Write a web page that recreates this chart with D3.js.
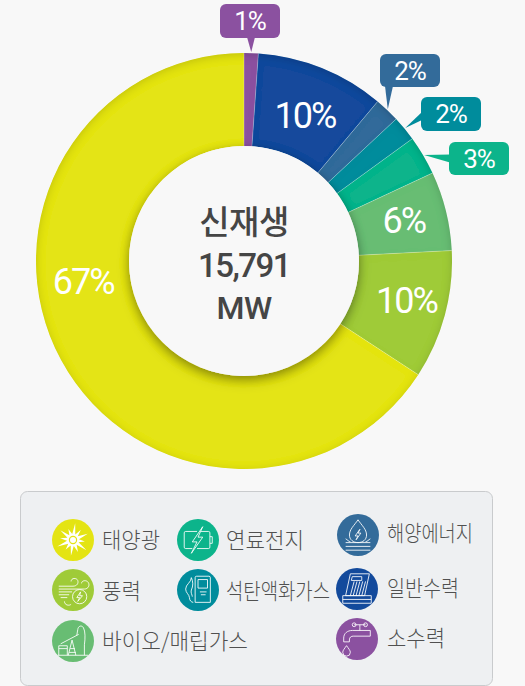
<!DOCTYPE html>
<html>
<head>
<meta charset="utf-8">
<script src="https://cdn.jsdelivr.net/npm/d3@7"></script>
<style>
html, body { margin: 0; padding: 0; background: #f8f8f8; overflow: hidden; }
text { font-family: Roboto, "Noto Sans CJK KR", sans-serif; }
.kr { font-family: "Noto Sans CJK KR", sans-serif; }
</style>
</head>
<body>
<svg id="chart" width="525" height="686"></svg>
<script>
// clockwise from 12 o'clock
var categories = ['소수력', '일반수력', '해양에너지', '석탄액화가스', '연료전지', '바이오/매립가스', '풍력', '태양광'];
var shares = [1.1, 10, 1.95, 1.95, 3.05, 6.15, 10, 65.8];
var percentLabels = ['1%', '10%', '2%', '2%', '3%', '6%', '10%', '67%'];
var colors = ['#8b51a0', '#134a9c', '#336b9a', '#008c9c', '#0cb48b', '#68bd73', '#9fcb38', '#e4e413'];
var centerLines = ['신재생', '15,791', 'MW'];

var cx = 244, cy = 261, outer = 208, inner = 115;

var svg = d3.select('#chart');
var defs = svg.append('defs');

// dark inner edge on the ring, a bit stronger along the top
var inset = defs.append('filter').attr('id', 'inset')
    .attr('x', '-5%').attr('y', '-5%').attr('width', '110%').attr('height', '110%');
inset.append('feFlood').attr('flood-color', '#000').attr('flood-opacity', 0.32).attr('result', 'fl');
inset.append('feComposite').attr('in', 'fl').attr('in2', 'SourceAlpha').attr('operator', 'out').attr('result', 'outside');
inset.append('feOffset').attr('in', 'outside').attr('dy', 1.5).attr('result', 'moved');
inset.append('feGaussianBlur').attr('in', 'moved').attr('stdDeviation', 4).attr('result', 'bl');
inset.append('feComposite').attr('in', 'bl').attr('in2', 'SourceAlpha').attr('operator', 'in').attr('result', 'edge');
var im = inset.append('feMerge');
im.append('feMergeNode').attr('in', 'SourceGraphic');
im.append('feMergeNode').attr('in', 'edge');

var holeShadow = defs.append('filter').attr('id', 'holeShadow')
    .attr('x', '-20%').attr('y', '-20%').attr('width', '140%').attr('height', '140%');
holeShadow.append('feDropShadow').attr('dx', 0).attr('dy', 5).attr('stdDeviation', 6)
    .attr('flood-color', '#000').attr('flood-opacity', 0.3);

var pie = d3.pie().sort(null).value(function(d) { return d; });
var arcs = pie(shares);
var arc = d3.arc().innerRadius(inner).outerRadius(outer);

function polar(a, r) {
    return [r * Math.sin(a), -r * Math.cos(a)];
}

var g = svg.append('g').attr('transform', 'translate(' + cx + ',' + cy + ')');

var ring = g.append('g').attr('filter', 'url(#inset)');
ring.selectAll('path').data(arcs).enter().append('path')
    .attr('d', arc)
    .attr('fill', function(d, i) { return colors[i]; });

// thin pale lines between the slices
g.selectAll('line.sep').data(arcs).enter().append('line')
    .attr('class', 'sep')
    .attr('x1', function(d) { return polar(d.endAngle, inner)[0]; })
    .attr('y1', function(d) { return polar(d.endAngle, inner)[1]; })
    .attr('x2', function(d) { return polar(d.endAngle, outer)[0]; })
    .attr('y2', function(d) { return polar(d.endAngle, outer)[1]; })
    .attr('stroke', '#fff').attr('stroke-opacity', 0.4).attr('stroke-width', 0.7);

g.append('circle').attr('r', inner).attr('fill', '#f8f8f8').attr('filter', 'url(#holeShadow)');

// center text
var centerY = [-38, 5, 47];
var centerSize = [33, 33, 32];
var centerSpacing = [-0.5, -1.5, -0.5];
g.selectAll('text.center').data(centerLines).enter().append('text')
    .attr('class', 'center')
    .attr('text-anchor', 'middle')
    .attr('y', function(d, i) { return centerY[i] + 11; })
    .attr('font-size', function(d, i) { return centerSize[i]; })
    .attr('font-weight', 500)
    .attr('letter-spacing', function(d, i) { return centerSpacing[i]; })
    .attr('fill', '#454545')
    .text(function(d) { return d; });

// labels that sit inside the ring, [slice, radius, angle in degrees]
var insideLabels = [[1, 158, 22.7], [5, 165, 75.5], [6, 167, 103.5], [7, 162, 263]];
g.selectAll('text.inside').data(insideLabels).enter().append('text')
    .attr('class', 'inside')
    .attr('text-anchor', 'middle')
    .attr('x', function(d) { return polar(d[2] * Math.PI / 180, d[1])[0]; })
    .attr('y', function(d) { return polar(d[2] * Math.PI / 180, d[1])[1] + 13; })
    .attr('font-size', 36)
    .attr('letter-spacing', -2)
    .attr('fill', '#fff')
    .text(function(d) { return percentLabels[d[0]]; });

// callouts for the thin slices
var callouts = [
    { i: 0, x: 220, y: 4, w: 60, h: 34, side: 'bottom' },
    { i: 2, x: 380, y: 54, w: 60, h: 33, side: 'bottom' },
    { i: 3, x: 421, y: 97, w: 60, h: 34, side: 'left' },
    { i: 4, x: 449, y: 142, w: 60, h: 33, side: 'left' }
];
var calloutLayer = svg.append('g');
callouts.forEach(function(c) {
    var a = (arcs[c.i].startAngle + arcs[c.i].endAngle) / 2;
    var tip = polar(a, outer + 1);
    var tx = cx + tip[0], ty = cy + tip[1];
    var base;
    if (c.side === 'bottom') {
        var bx = c.i === 2 ? c.x + 9 : c.x + 31;
        base = [[bx - 4, c.y + c.h - 1], [bx + 4, c.y + c.h - 1]];
    } else {
        var by = c.y + c.h / 2 + (c.i === 3 ? 2 : 0);
        base = [[c.x + 1, by - 4], [c.x + 1, by + 4]];
    }
    calloutLayer.append('path')
        .attr('d', 'M' + base[0] + 'L' + base[1] + 'L' + [tx, ty] + 'Z')
        .attr('fill', colors[c.i]);
    calloutLayer.append('rect')
        .attr('x', c.x).attr('y', c.y).attr('width', c.w).attr('height', c.h).attr('rx', 6)
        .attr('fill', colors[c.i]);
    calloutLayer.append('text')
        .attr('x', c.x + c.w / 2).attr('y', c.y + c.h / 2 + 9)
        .attr('text-anchor', 'middle')
        .attr('font-size', 26).attr('letter-spacing', -1)
        .attr('fill', '#fff')
        .text(percentLabels[c.i]);
});

// legend
svg.append('rect')
    .attr('x', 20.5).attr('y', 491.5).attr('width', 472).attr('height', 194).attr('rx', 7)
    .attr('fill', '#eef0f2').attr('stroke', '#c9cbcd');

var legendItems = [
    { name: '태양광', cx: 73, cy: 540, tx: 102, ty: 548, len: 58, icon: 'sun' },
    { name: '연료전지', cx: 198, cy: 540, tx: 226, ty: 548, len: 78, icon: 'battery' },
    { name: '해양에너지', cx: 358, cy: 535, tx: 387, ty: 541, len: 86, icon: 'wave' },
    { name: '풍력', cx: 73, cy: 590, tx: 102, ty: 599, len: 39, icon: 'wind' },
    { name: '석탄액화가스', cx: 198, cy: 590, tx: 226, ty: 599, len: 104, icon: 'fuel' },
    { name: '일반수력', cx: 357, cy: 589, tx: 387, ty: 596, len: 72, icon: 'dam' },
    { name: '바이오/매립가스', cx: 73, cy: 641, tx: 102, ty: 649, len: 146, icon: 'jack' },
    { name: '소수력', cx: 357, cy: 639, tx: 387, ty: 646, len: 58, icon: 'tap' }
];

// icon artwork, drawn around the circle center
var icons = {
    battery: ['M-1,-9H-13a1.5,1.5 0 0 0 -1.5,1.5V7.5a1.5,1.5 0 0 0 1.5,1.5H-6M3,-9H11a1.5,1.5 0 0 1 1.5,1.5V7.5a1.5,1.5 0 0 1 -1.5,1.5H-1',
              'M12.5,-3.5H15V3.5H12.5', 'M5,-14L-6,2H-1L-7,14L5,-3H0Z'],
    wave: ['M0,-16C4,-10 9,-6 9,0C9,5 5,8 0,8C-5,8 -9,5 -9,0C-9,-6 -4,-10 0,-16Z', 'M2,-6L-3,1H0L-2,5L3,-2H0Z',
           'M-13,4C-11,5 -10,7 -8,7M13,4C11,5 10,7 8,7', 'M-13,8H13M-13,12H13M-13,16H13'],
    wind: ['M-15,-4H0C4,-4 6,-7 5,-10C4,-13 -2,-13 -2,-9', 'M-15,-1H12C16,-1 18,-5 16,-8C14,-11 9,-10 9,-7',
           'M-15,2H-1M-15,5H-4M-13,8H-6M-9,12C-9,16 -4,17 -2,15',
           'M14.5,7A7.5,7.5 0 1 1 -0.5,7A7.5,7.5 0 1 1 14.5,7Z', 'M8,2L4,8H7L5,12L10,6H7Z'],
    fuel: ['M-3,13V-13A1.5,1.5 0 0 1 -1.5,-14.5H11.5A1.5,1.5 0 0 1 13,-13V13Z', 'M0,-11H10V-2H0Z', 'M2,2H9M3,5H8',
           'M-7,-13C-7,-8 -13,-6 -13,-1C-13,3 -9,5 -9,8C-9,11 -7,13 -5,13M-7,-13C-5,-9 -5,-4 -7,0C-8,3 -6,5 -6,7'],
    dam: ['M-7,-16H13L8,7H-12Z', 'M-5,-13H5V-9H-6Z', 'M9,-8L5,7M6,-8L2,7M3,-8L-1,7M0,-8L-4,7M-3,-8L-7,7',
          'M-15,7H15V15H-15ZM-15,11H15'],
    jack: ['M-16,15H16', 'M-15,15V5H-6V15M-15,8H-6', 'M-13,3L6,-7', 'M-5,15L-1,-1L3,15M-3,8H2M-4,12H3',
           'M4,-6L5,-12C5.5,-16 9,-17 11,-14C13,-10 13,-3 12,4', 'M12,4V15'],
    tap: ['M-14,3V-1C-14,-6 -10,-9 -5,-9H14V-3H-4C-6,-3 -8,-2 -8,1V3Z', 'M3,-9V-12M-3,-15H9M3,-15V-12', 'M-5,-15a2,2 0 1 0 4,0a2,2 0 1 0 -4,0M7,-15a2,2 0 1 0 4,0a2,2 0 1 0 -4,0',
          'M-11,7C-9,10 -7,12 -7,14A4,4 0 0 1 -15,14C-15,12 -13,10 -11,7Z']
};
// legend circle colours follow the slice colours
var iconColor = { sun: 7, battery: 4, wave: 2, wind: 6, fuel: 3, dam: 1, jack: 5, tap: 0 };

var legend = svg.selectAll('g.item').data(legendItems).enter().append('g').attr('class', 'item');

legend.append('circle')
    .attr('cx', function(d) { return d.cx; })
    .attr('cy', function(d) { return d.cy; })
    .attr('r', 21)
    .attr('fill', function(d) { return colors[iconColor[d.icon]]; });

legend.append('text')
    .attr('class', 'kr')
    .attr('x', function(d) { return d.tx; })
    .attr('y', function(d) { return d.ty; })
    .attr('font-size', 22)
    .attr('font-weight', 300)
    .attr('textLength', function(d) { return d.len; })
    .attr('lengthAdjust', 'spacingAndGlyphs')
    .attr('fill', '#505050')
    .text(function(d) { return d.name; });

legend.each(function(d) {
    var ig = d3.select(this).append('g').attr('transform', 'translate(' + d.cx + ',' + d.cy + ')');
    if (d.icon === 'sun') {
        var radii = [17, 6, 13, 6, 16, 6, 12, 6, 17, 6, 13, 6, 16, 6, 12, 6, 17, 6, 13, 6, 16, 6, 12, 6];
        var star = d3.lineRadial()
            .angle(function(r, i) { return i / radii.length * 2 * Math.PI + 0.13; })
            .radius(function(r) { return r; })
            .curve(d3.curveLinearClosed);
        ig.append('path').attr('d', star(radii)).attr('fill', '#fff');
        ig.append('circle').attr('r', 3.6).attr('fill', 'none').attr('stroke', colors[7]).attr('stroke-width', 1.2);
    } else {
        ig.selectAll('path').data(icons[d.icon]).enter().append('path')
            .attr('d', function(p) { return p; })
            .attr('transform', 'scale(0.95)')
            .attr('fill', 'none')
            .attr('stroke', '#fff')
            .attr('stroke-opacity', 0.9)
            .attr('stroke-width', 1);
    }
});
</script>
</body>
</html>
